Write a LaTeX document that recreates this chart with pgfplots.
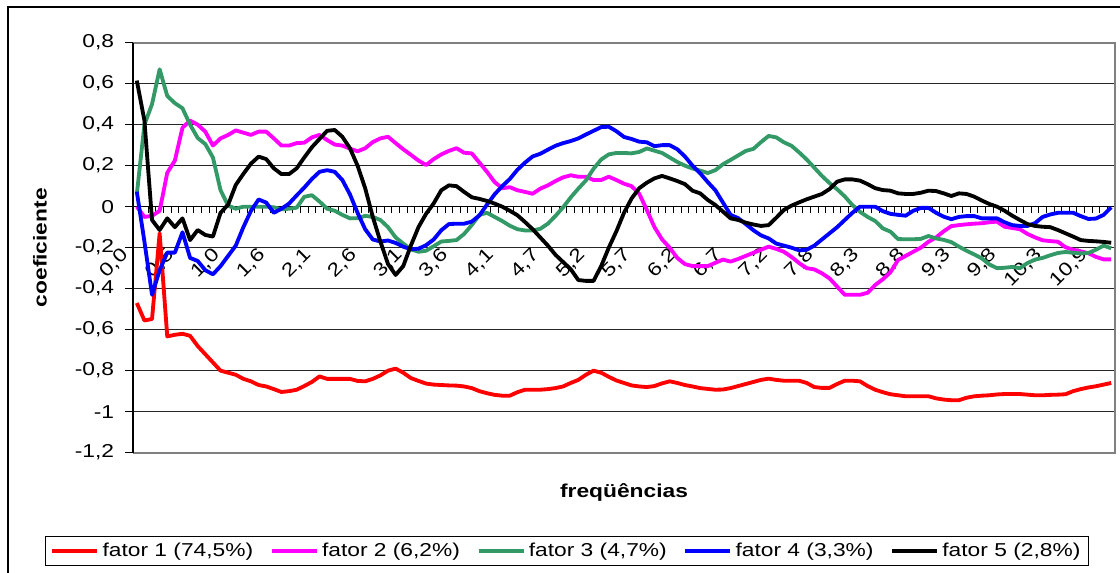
\documentclass[border=0pt]{standalone}
\usepackage{fontspec}
\setmainfont{Liberation Sans}[FakeStretch=1.22]
\usepackage{pgfplots}
\pgfplotsset{compat=1.18}
\usepackage{pgfplotstable}
\definecolor{cgreen}{RGB}{51,153,102}
\definecolor{cmag}{RGB}{255,0,255}
\definecolor{cred}{RGB}{255,0,0}
\definecolor{cblue}{RGB}{0,0,255}
\newcommand{\chartfont}{\fontsize{11.2}{13}\selectfont}

\pgfplotstableread{
i f1 f2 f3 f4 f5
0 -0.47 0.0 0.06 0.073 0.615
1 -0.555 -0.05 0.40 -0.17 0.42
2 -0.548 -0.045 0.50 -0.43 -0.065
3 -0.13 -0.02 0.67 -0.31 -0.114
4 -0.633 0.165 0.54 -0.224 -0.057
5 -0.625 0.225 0.505 -0.224 -0.10
6 -0.62 0.385 0.48 -0.125 -0.057
7 -0.63 0.42 0.40 -0.25 -0.163
8 -0.68 0.40 0.335 -0.265 -0.114
9 -0.72 0.366 0.305 -0.31 -0.138
10 -0.76 0.298 0.24 -0.33 -0.146
11 -0.80 0.333 0.08 -0.29 -0.03
12 -0.81 0.35 0.005 -0.24 0.01
13 -0.82 0.372 -0.01 -0.19 0.106
14 -0.84 0.361 0.0 -0.10 0.16
15 -0.852 0.35 0.0 -0.02 0.21
16 -0.87 0.366 0.0 0.035 0.244
17 -0.877 0.366 0.0 0.02 0.232
18 -0.89 0.333 -0.003 -0.03 0.187
19 -0.904 0.298 -0.013 -0.01 0.159
20 -0.90 0.298 -0.01 0.015 0.159
21 -0.893 0.31 -0.005 0.055 0.187
22 -0.875 0.312 0.048 0.093 0.24
23 -0.855 0.338 0.056 0.135 0.29
24 -0.828 0.35 0.025 0.17 0.33
25 -0.84 0.325 -0.01 0.178 0.37
26 -0.84 0.303 -0.02 0.17 0.374
27 -0.84 0.298 -0.04 0.13 0.341
28 -0.84 0.283 -0.057 0.06 0.285
29 -0.85 0.27 -0.056 -0.03 0.20
30 -0.852 0.285 -0.045 -0.11 0.09
31 -0.84 0.315 -0.05 -0.16 -0.05
32 -0.823 0.333 -0.065 -0.17 -0.17
33 -0.80 0.341 -0.10 -0.165 -0.28
34 -0.79 0.31 -0.15 -0.177 -0.333
35 -0.81 0.28 -0.18 -0.195 -0.29
36 -0.836 0.253 -0.208 -0.208 -0.19
37 -0.85 0.225 -0.22 -0.205 -0.10
38 -0.863 0.203 -0.215 -0.188 -0.035
39 -0.868 0.232 -0.193 -0.16 0.016
40 -0.87 0.255 -0.17 -0.115 0.08
41 -0.872 0.272 -0.167 -0.085 0.104
42 -0.873 0.285 -0.163 -0.083 0.10
43 -0.877 0.263 -0.133 -0.083 0.072
44 -0.885 0.26 -0.09 -0.073 0.046
45 -0.90 0.215 -0.04 -0.043 0.038
46 -0.91 0.17 -0.03 0.01 0.028
47 -0.918 0.12 -0.05 0.06 0.015
48 -0.922 0.09 -0.07 0.10 0.0
49 -0.922 0.095 -0.093 0.135 -0.02
50 -0.905 0.08 -0.11 0.18 -0.042
51 -0.893 0.072 -0.116 0.215 -0.075
52 -0.893 0.063 -0.116 0.245 -0.11
53 -0.893 0.088 -0.108 0.258 -0.15
54 -0.89 0.104 -0.083 0.278 -0.19
55 -0.885 0.125 -0.045 0.297 -0.235
56 -0.877 0.143 -0.003 0.31 -0.27
57 -0.86 0.153 0.045 0.32 -0.305
58 -0.845 0.146 0.088 0.333 -0.358
59 -0.82 0.146 0.128 0.352 -0.362
60 -0.80 0.13 0.185 0.37 -0.362
61 -0.81 0.13 0.23 0.388 -0.29
62 -0.83 0.146 0.255 0.39 -0.20
63 -0.848 0.13 0.262 0.368 -0.12
64 -0.86 0.112 0.262 0.34 -0.03
65 -0.872 0.10 0.26 0.33 0.04
66 -0.877 0.063 0.267 0.317 0.09
67 -0.88 -0.016 0.284 0.314 0.117
68 -0.875 -0.10 0.273 0.295 0.138
69 -0.862 -0.16 0.262 0.30 0.15
70 -0.852 -0.20 0.24 0.30 0.138
71 -0.86 -0.25 0.218 0.28 0.125
72 -0.87 -0.28 0.20 0.245 0.11
73 -0.877 -0.29 0.186 0.20 0.078
74 -0.885 -0.29 0.176 0.163 0.065
75 -0.889 -0.29 0.164 0.12 0.033
76 -0.893 -0.274 0.178 0.08 0.008
77 -0.892 -0.258 0.207 0.02 -0.024
78 -0.885 -0.268 0.228 -0.04 -0.057
79 -0.875 -0.255 0.25 -0.056 -0.065
80 -0.865 -0.24 0.272 -0.085 -0.078
81 -0.855 -0.225 0.282 -0.115 -0.087
82 -0.845 -0.21 0.315 -0.14 -0.094
83 -0.839 -0.195 0.345 -0.155 -0.09
84 -0.845 -0.206 0.338 -0.18 -0.054
85 -0.849 -0.22 0.314 -0.19 -0.016
86 -0.849 -0.245 0.297 -0.20 0.005
87 -0.849 -0.275 0.265 -0.213 0.021
88 -0.86 -0.30 0.23 -0.21 0.036
89 -0.88 -0.306 0.19 -0.19 0.049
90 -0.884 -0.325 0.15 -0.16 0.062
91 -0.884 -0.35 0.115 -0.13 0.086
92 -0.865 -0.39 0.085 -0.10 0.122
93 -0.849 -0.43 0.05 -0.065 0.133
94 -0.849 -0.43 0.008 -0.03 0.133
95 -0.852 -0.43 -0.025 0.0 0.127
96 -0.875 -0.42 -0.05 0.0 0.11
97 -0.893 -0.382 -0.07 0.0 0.09
98 -0.905 -0.354 -0.106 -0.022 0.081
99 -0.915 -0.32 -0.122 -0.035 0.078
100 -0.92 -0.26 -0.158 -0.04 0.065
101 -0.925 -0.24 -0.159 -0.044 0.062
102 -0.925 -0.22 -0.159 -0.02 0.062
103 -0.925 -0.20 -0.157 -0.006 0.068
104 -0.925 -0.171 -0.143 -0.006 0.078
105 -0.935 -0.15 -0.155 -0.03 0.076
106 -0.941 -0.12 -0.162 -0.049 0.065
107 -0.944 -0.095 -0.173 -0.061 0.052
108 -0.944 -0.09 -0.195 -0.05 0.065
109 -0.932 -0.086 -0.215 -0.046 0.062
110 -0.925 -0.083 -0.233 -0.046 0.049
111 -0.922 -0.081 -0.252 -0.057 0.03
112 -0.92 -0.076 -0.282 -0.057 0.013
113 -0.916 -0.073 -0.30 -0.057 0.0
114 -0.914 -0.098 -0.298 -0.076 -0.02
115 -0.914 -0.104 -0.294 -0.09 -0.044
116 -0.914 -0.11 -0.30 -0.094 -0.065
117 -0.917 -0.133 -0.275 -0.094 -0.085
118 -0.92 -0.15 -0.258 -0.08 -0.094
119 -0.92 -0.164 -0.25 -0.05 -0.098
120 -0.918 -0.168 -0.237 -0.038 -0.10
121 -0.917 -0.171 -0.226 -0.03 -0.114
122 -0.915 -0.198 -0.221 -0.03 -0.13
123 -0.90 -0.21 -0.225 -0.03 -0.146
124 -0.89 -0.218 -0.228 -0.046 -0.163
125 -0.882 -0.227 -0.226 -0.06 -0.167
126 -0.876 -0.245 -0.21 -0.058 -0.169
127 -0.868 -0.257 -0.19 -0.04 -0.172
128 -0.86 -0.257 -0.203 -0.003 -0.176
}\coefdata

\begin{document}
\begin{tikzpicture}[x=1pt,y=1pt]
\useasboundingbox (0,0) rectangle (672,343.2);
\draw[line width=1.1pt] (4.8,-2) -- (4.8,339) -- (680,339);
\begin{axis}[
  at={(79.8pt,71.6pt)}, anchor=south west,
  scale only axis, width=589.2pt, height=246pt,
  xmin=-0.5, xmax=128.5, ymin=-1.2, ymax=0.8,
  clip=false,
  axis x line=middle, axis y line=left,
  axis line style={-, black, line width=0.7pt},
  hide obscured x ticks=false, hide obscured y ticks=false,
  xtick={0,6,...,126},
  xticklabels={{0,0},{0,5},{1,0},{1,6},{2,1},{2,6},{3,1},{3,6},{4,1},{4,7},{5,2},{5,7},{6,2},{6,7},{7,2},{7,8},{8,3},{8,8},{9,3},{9,8},{10,3},{10,9}},
  every major x tick/.append style={opacity=0},
  minor xtick={-0.5,0.5,...,128.5},
  every minor tick/.append style={black, line width=0.6pt},
  xtick align=outside, ytick align=outside,
  minor tick length=4pt, major tick length=4.8pt,
  ytick={-1.2,-1,-0.8,-0.6,-0.4,-0.2,0,0.2,0.4,0.6,0.8},
  yticklabels={{-1,2},{-1},{-0,8},{-0,6},{-0,4},{-0,2},{0},{0,2},{0,4},{0,6},{0,8}},
  every major y tick/.append style={black, line width=0.6pt},
  tick label style={font=\chartfont},
  yticklabel style={xshift=-3pt},
  xticklabel style={xshift=-4.5pt, yshift=-20pt, rotate=45, anchor=east},
  ymajorgrids=true,
  major grid style={black!85, line width=0.6pt},
  every axis y label/.style={at={([xshift=-55.8pt]axis description cs:0,0.5)}, rotate=90, anchor=center, font=\bfseries\chartfont},
  every axis x label/.style={at={([yshift=-23.6pt]axis description cs:0.5,0)}, anchor=center, font=\bfseries\chartfont},
  ylabel={coeficiente},
  xlabel={freqüências},
  legend columns=5,
  legend style={at={(axis description cs:0.442,-0.24)}, anchor=center, draw=black, line width=0.6pt, font=\chartfont, inner xsep=3pt, inner ysep=2pt, /tikz/every even column/.append style={column sep=8pt}},
  legend image code/.code={\draw[#1,line width=2.3pt] (0pt,0pt) -- (27pt,0pt);},
  every axis plot/.append style={line width=2.3pt, line join=round, no marks},
]
\addplot[cred] table[x=i,y=f1] {\coefdata};
\addlegendentry{fator 1 (74,5\%)}
\addplot[cmag] table[x=i,y=f2] {\coefdata};
\addlegendentry{fator 2 (6,2\%)}
\addplot[cgreen] table[x=i,y=f3] {\coefdata};
\addlegendentry{fator 3 (4,7\%)}
\addplot[cblue] table[x=i,y=f4] {\coefdata};
\addlegendentry{fator 4 (3,3\%)}
\addplot[black] table[x=i,y=f5] {\coefdata};
\addlegendentry{fator 5 (2,8\%)}
\draw[gray, line width=1.1pt] (rel axis cs:0,1) -- (rel axis cs:1,1) -- (rel axis cs:1,0) -- (rel axis cs:0,0);
\draw[black, line width=0.7pt] (rel axis cs:0,0) -- (rel axis cs:0,1);
\end{axis}
\end{tikzpicture}
\end{document}
